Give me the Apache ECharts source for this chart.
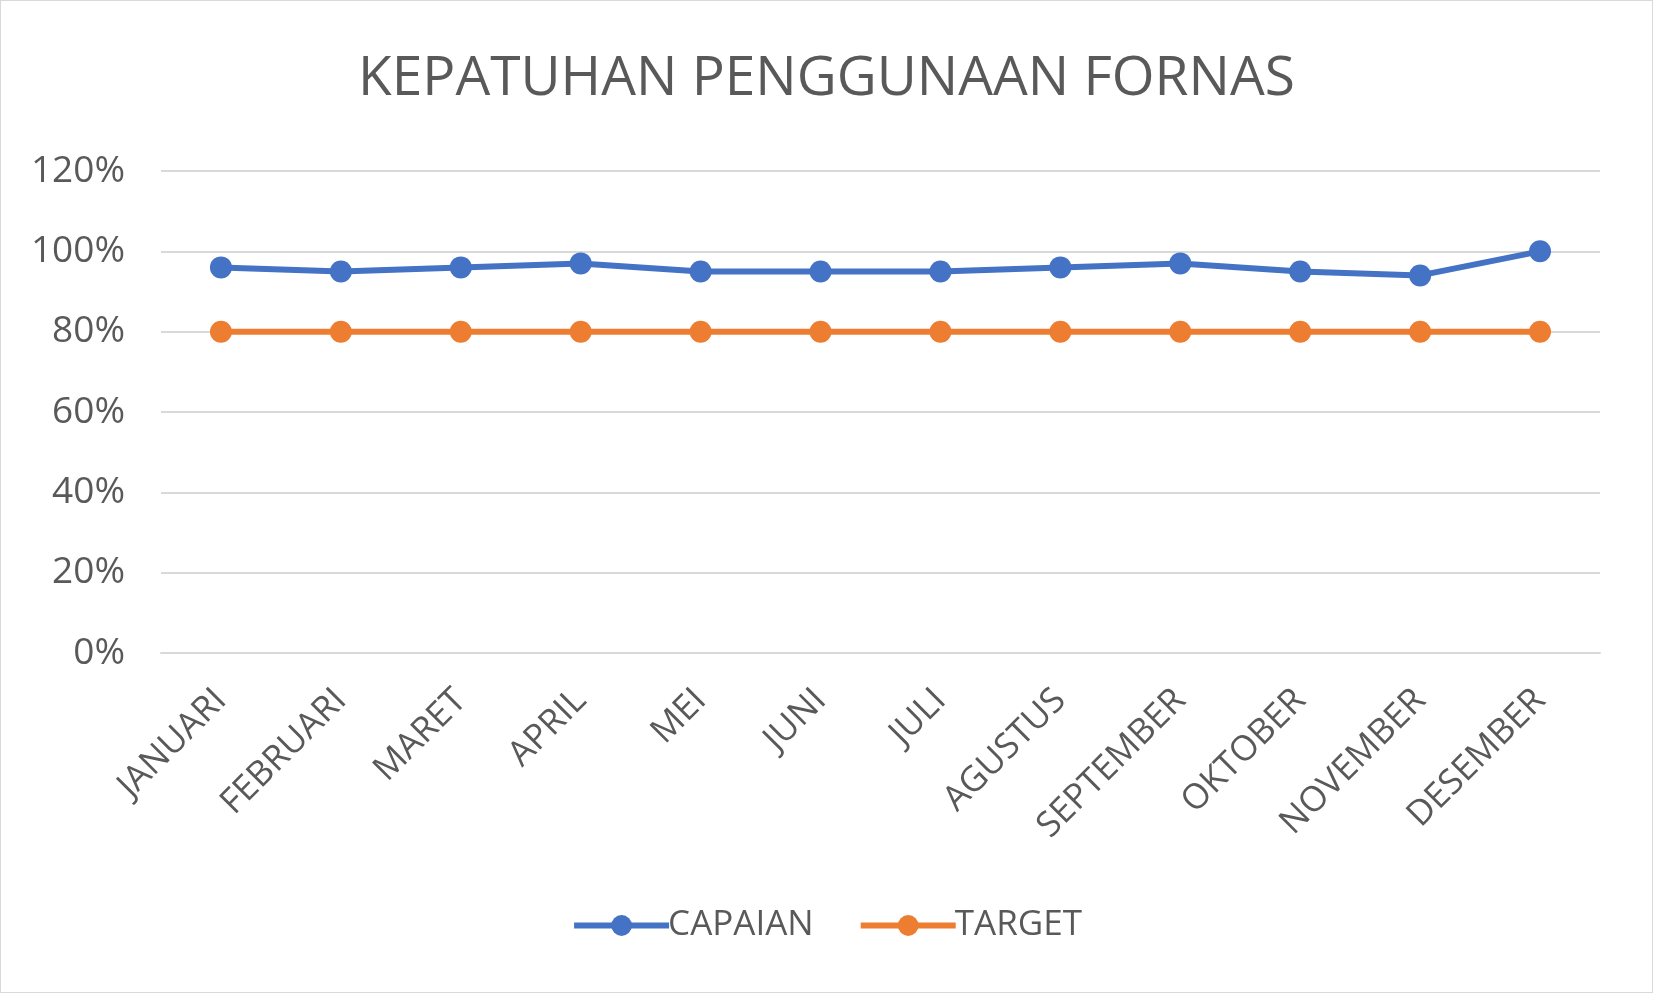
<!DOCTYPE html>
<html lang="id" style="height: 100%">
<head>
  <meta charset="utf-8">
</head>
<body style="height: 100%; margin: 0">
  <div id="container" style="height: 991px; width: 1651px; border: 1px solid #d9d9d9; background: #fff"></div>

  <script type="text/javascript" src="https://cdn.jsdelivr.net/npm/echarts@6/dist/echarts.min.js"></script>
  <script type="text/javascript">
    var months = ['JANUARI', 'FEBRUARI', 'MARET', 'APRIL', 'MEI', 'JUNI', 'JULI',
      'AGUSTUS', 'SEPTEMBER', 'OKTOBER', 'NOVEMBER', 'DESEMBER'];
    var capaian = [0.96, 0.95, 0.96, 0.97, 0.95, 0.95, 0.95, 0.96, 0.97, 0.95, 0.94, 1.00];
    var target = [0.80, 0.80, 0.80, 0.80, 0.80, 0.80, 0.80, 0.80, 0.80, 0.80, 0.80, 0.80];

    var textColor = '#595959';
    var fontName = '"Open Sans", "Noto Sans", sans-serif';

    var myChart = echarts.init(document.getElementById('container'), null, { renderer: 'canvas' });

    var option = {
      backgroundColor: '#ffffff',
      title: {
        text: 'KEPATUHAN PENGGUNAAN FORNAS',
        left: 'center',
        top: 46,
        textStyle: { color: textColor, fontSize: 55, fontWeight: 'normal', fontFamily: fontName }
      },
      legend: {
        bottom: 44,
        left: 'center',
        itemWidth: 95,
        itemHeight: 26,
        itemGap: 44,
        lineStyle: { width: 6 },
        textStyle: { color: textColor, fontSize: 35, fontFamily: fontName, padding: [0, 0, 0, -6] },
        data: ['CAPAIAN', 'TARGET']
      },
      grid: { left: 160, right: 52, top: 170, height: 482, containLabel: false },
      xAxis: {
        type: 'category',
        data: months,
        boundaryGap: true,
        axisLine: { lineStyle: { color: '#d9d9d9', width: 2 } },
        axisTick: { show: false },
        axisLabel: {
          rotate: 45,
          color: textColor,
          fontSize: 35,
          fontFamily: fontName,
          margin: 42,
          interval: 0
        }
      },
      yAxis: {
        type: 'value',
        min: 0,
        max: 1.2,
        interval: 0.2,
        axisLine: { show: false },
        axisTick: { show: false },
        splitLine: { lineStyle: { color: '#d9d9d9', width: 2 } },
        axisLabel: {
          color: textColor,
          fontSize: 37,
          fontFamily: fontName,
          margin: 36,
          formatter: function (v) { return Math.round(v * 100) + '%'; }
        }
      },
      series: [
        {
          name: 'CAPAIAN',
          type: 'line',
          data: capaian,
          symbol: 'circle',
          symbolSize: 22,
          color: '#4472C4',
          lineStyle: { width: 6, color: '#4472C4' },
          itemStyle: { color: '#4472C4' },
          z: 3
        },
        {
          name: 'TARGET',
          type: 'line',
          data: target,
          symbol: 'circle',
          symbolSize: 22,
          color: '#ED7D31',
          lineStyle: { width: 6, color: '#ED7D31' },
          itemStyle: { color: '#ED7D31' },
          z: 2
        }
      ],
      animation: false
    };

    myChart.setOption(option);
    window.addEventListener('resize', myChart.resize);
  </script>
</body>
</html>
